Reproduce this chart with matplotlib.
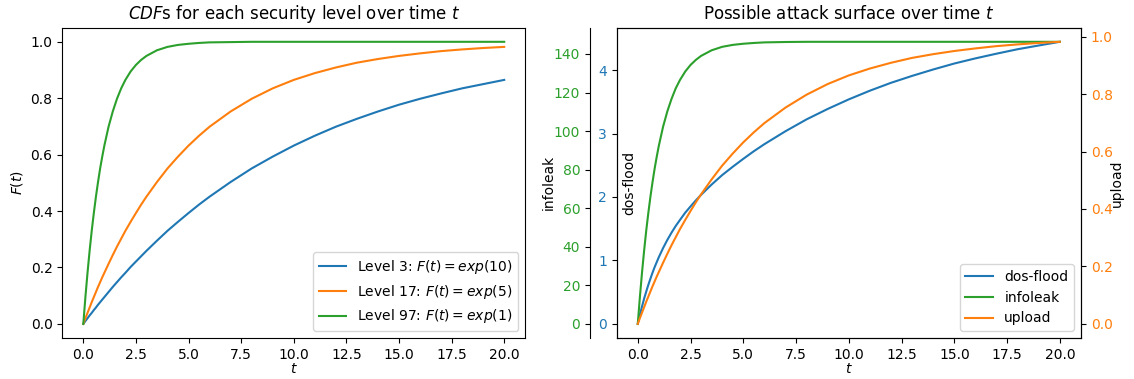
import matplotlib
matplotlib.use("Agg")
import matplotlib.pyplot as plt

# time samples
t = [0, 0.1, 0.2, 0.3, 0.4, 0.5, 0.6, 0.7, 0.8, 0.9,
     1.0, 1.2, 1.4, 1.6, 1.8, 2.0, 2.25, 2.5, 2.75, 3,
     3.5, 4, 4.5, 5, 5.5, 6, 7, 8, 9, 10,
     11, 12, 13, 14, 15, 16, 17, 18, 19, 20]

# left panel: CDFs per security level
level3 = [0, 0.010, 0.020, 0.030, 0.039, 0.049, 0.058, 0.068, 0.077, 0.086,
          0.095, 0.113, 0.131, 0.148, 0.165, 0.181, 0.202, 0.221, 0.240, 0.259,
          0.295, 0.330, 0.362, 0.393, 0.423, 0.451, 0.503, 0.551, 0.593, 0.632,
          0.667, 0.699, 0.727, 0.753, 0.777, 0.798, 0.817, 0.835, 0.850, 0.865]
level17 = [0, 0.020, 0.039, 0.058, 0.077, 0.095, 0.113, 0.131, 0.148, 0.165,
           0.181, 0.213, 0.244, 0.274, 0.302, 0.330, 0.362, 0.393, 0.423, 0.451,
           0.503, 0.551, 0.593, 0.632, 0.667, 0.699, 0.753, 0.798, 0.835, 0.865,
           0.889, 0.909, 0.926, 0.939, 0.950, 0.959, 0.967, 0.973, 0.978, 0.982]
level97 = [0, 0.095, 0.181, 0.259, 0.330, 0.393, 0.451, 0.503, 0.551, 0.593,
           0.632, 0.699, 0.753, 0.798, 0.835, 0.865, 0.895, 0.918, 0.936, 0.950,
           0.970, 0.982, 0.989, 0.993, 0.996, 0.998, 0.999, 1.0, 1.0, 1.0,
           1.0, 1.0, 1.0, 1.0, 1.0, 1.0, 1.0, 1.0, 1.0, 1.0]

# right panel: attack surface per vulnerability class
dos_flood = [0, 0.142, 0.273, 0.397, 0.508, 0.615, 0.713, 0.808, 0.895, 0.975,
             1.053, 1.195, 1.323, 1.438, 1.544, 1.638, 1.753, 1.851, 1.945, 2.034,
             2.196, 2.345, 2.476, 2.601, 2.721, 2.832, 3.036, 3.223, 3.387, 3.538,
             3.675, 3.799, 3.908, 4.009, 4.103, 4.184, 4.258, 4.328, 4.387, 4.445]
infoleak = [0, 13.9, 26.5, 37.9, 48.3, 57.5, 66.0, 73.6, 80.6, 86.8,
            92.5, 102.3, 110.2, 116.7, 122.2, 126.5, 130.9, 134.3, 136.9, 139.0,
            141.9, 143.7, 144.7, 145.3, 145.7, 146.0, 146.2, 146.3, 146.3, 146.3,
            146.3, 146.3, 146.3, 146.3, 146.3, 146.3, 146.3, 146.3, 146.3, 146.3]
upload = level17

fig = plt.figure(figsize=(11.34, 3.79), dpi=100)

# ---- left
ax1 = fig.add_axes([0.0549, 0.1082, 0.4083, 0.8187])
ax1.plot(t, level3, color='tab:blue', label='Level 3: $F(t) = exp(10)$')
ax1.plot(t, level17, color='tab:orange', label='Level 17: $F(t) = exp(5)$')
ax1.plot(t, level97, color='tab:green', label='Level 97: $F(t) = exp(1)$')
ax1.set_title('$CDF$s for each security level over time $t$', fontsize=12)
ax1.set_xlabel('$t$', labelpad=0)
ax1.set_ylabel('$F(t)$')
ax1.legend(loc='lower right')

# ---- right
host = fig.add_axes([0.5438, 0.1082, 0.4094, 0.8187])
par1 = host.twinx()
par2 = host.twinx()

p1, = host.plot(t, dos_flood, color='tab:blue', label='dos-flood')
p2, = par1.plot(t, infoleak, color='tab:green', label='infoleak')
p3, = par2.plot(t, upload, color='tab:orange', label='upload')

par1.spines['left'].set_position(('axes', -0.0575))
par1.spines['left'].set_visible(True)
par1.spines['right'].set_visible(False)
par1.spines['top'].set_visible(False)
par1.spines['bottom'].set_visible(False)
par1.yaxis.tick_left()
par1.yaxis.set_label_position('left')

host.set_ylabel('dos-flood')
par1.set_ylabel('infoleak')
par2.set_ylabel('upload')
host.yaxis.set_label_coords(0.043, 0.5)
par1.yaxis.set_label_coords(-0.131, 0.5)
par2.yaxis.set_label_coords(1.062, 0.5)

host.tick_params(axis='y', labelcolor='tab:blue')
par1.tick_params(axis='y', labelcolor='tab:green')
par2.tick_params(axis='y', labelcolor='tab:orange')

host.set_xlabel('$t$', labelpad=0)
host.set_title('Possible attack surface over time $t$', fontsize=12)
host.legend(handles=[p1, p2, p3], loc='lower right')

fig.savefig('out.png', dpi=100)
